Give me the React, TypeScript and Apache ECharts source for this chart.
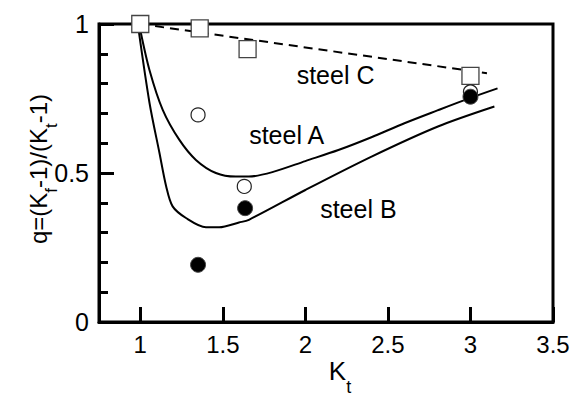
import { useEffect, useRef } from "react";
import * as echarts from "echarts";

// Steel C: fatigue notch sensitivity (open squares) and its dashed trend
const steelCKt = [1.0, 1.36, 1.65, 3.0];
const steelCq = [1.0, 0.985, 0.916, 0.826];
const steelCTrendKt = [1.0, 3.1];
const steelCTrendQ = [1.0, 0.835];

// Steel A: open circles
const steelAKt = [1.35, 1.63, 3.0];
const steelAq = [0.695, 0.455, 0.772];

// Steel B: filled circles
const steelBKt = [1.35, 1.635, 3.0];
const steelBq = [0.192, 0.382, 0.756];

// Predicted curves for steel A and steel B
const curveAKt = [1.0, 1.056, 1.136, 1.237, 1.337, 1.458, 1.578, 1.658, 1.8, 2.0, 2.2, 2.4, 2.6, 2.8, 3.0, 3.164];
const curveAq = [0.98, 0.845, 0.712, 0.611, 0.544, 0.5, 0.488, 0.488, 0.503, 0.54, 0.577, 0.62, 0.667, 0.71, 0.752, 0.784];
const curveBKt = [0.99, 1.056, 1.116, 1.157, 1.196, 1.277, 1.398, 1.478, 1.598, 1.658, 2.0, 2.401, 2.803, 3.145];
const curveBq = [0.98, 0.735, 0.568, 0.455, 0.388, 0.349, 0.318, 0.318, 0.334, 0.343, 0.443, 0.555, 0.656, 0.723];

// In-plot labels
const labelNames = ["steel C", "steel A", "steel B"];
const labelKt = [2.183, 1.887, 2.321];
const labelQ = [0.829, 0.627, 0.378];

// Axis ticks
const xTickValues = [1, 1.5, 2, 2.5, 3, 3.5];
const yTickValues = [0, 0.5, 1];

const FONT = "'Liberation Sans', Arial, Helvetica, sans-serif";

const zip = (xs: number[], ys: number[]) => xs.map((x, i) => [x, ys[i]]);

export default function App() {
  const ref = useRef<HTMLDivElement>(null);

  useEffect(() => {
    if (!ref.current) return;
    const chart = echarts.init(ref.current, undefined, { renderer: "svg" });

    const yNameRich = {
      m: { fontSize: 24, lineHeight: 44, fontFamily: FONT, color: "#000" },
      s: { fontSize: 17, lineHeight: 18, verticalAlign: "bottom", fontFamily: FONT, color: "#000" },
    };
    const xNameRich = {
      m: { fontSize: 26, lineHeight: 50, fontFamily: FONT, color: "#000" },
      s: { fontSize: 18, lineHeight: 18, verticalAlign: "bottom", fontFamily: FONT, color: "#000" },
    };

    chart.setOption({
      animation: false,
      backgroundColor: "#fff",
      textStyle: { fontFamily: FONT },
      grid: {
        left: 99,
        right: 28,
        top: 24,
        bottom: 74,
        outerBoundsMode: "none",
        containLabel: false,
        show: true,
        borderColor: "#000",
        borderWidth: 3,
        backgroundColor: "transparent",
      },
      xAxis: {
        type: "value",
        min: 0.75,
        max: 3.5,
        name: "{m|K}{s|t}",
        nameLocation: "middle",
        nameGap: 24,
        nameMoveOverlap: false,
        nameTextStyle: { rich: xNameRich, padding: [0, 0, 0, 28] },
        axisLine: { show: true, onZero: false, lineStyle: { color: "#000", width: 3 } },
        axisTick: {
          show: true,
          inside: true,
          length: 15,
          customValues: xTickValues,
          lineStyle: { color: "#000", width: 3 },
        },
        axisLabel: {
          customValues: xTickValues,
          fontSize: 24,
          color: "#000",
          fontFamily: FONT,
          margin: 10,
          formatter: (v: number) => String(v),
        },
        splitLine: { show: false },
      },
      yAxis: {
        type: "value",
        min: 0,
        max: 1,
        interval: 0.5,
        name: "{m|q=(K}{s|f}{m|-1)/(K}{s|t}{m|-1)}",
        nameLocation: "middle",
        nameRotate: 90,
        nameGap: 39,
        nameMoveOverlap: false,
        nameTextStyle: { rich: yNameRich, padding: [0, 0, 0, 8] },
        axisLine: { show: true, lineStyle: { color: "#000", width: 3 } },
        axisTick: {
          show: true,
          inside: true,
          length: 15,
          customValues: yTickValues,
          lineStyle: { color: "#000", width: 3 },
        },
        minorTick: {
          show: true,
          splitNumber: 5,
          length: 9,
          lineStyle: { color: "#000", width: 3 },
        },
        axisLabel: {
          customValues: yTickValues,
          fontSize: 25,
          color: "#000",
          fontFamily: FONT,
          margin: 10,
          formatter: (v: number) => String(v),
        },
        splitLine: { show: false },
        minorSplitLine: { show: false },
      },
      series: [
        {
          type: "line",
          data: zip(curveAKt, curveAq),
          smooth: 0.3,
          showSymbol: false,
          lineStyle: { color: "#000", width: 2 },
          z: 2,
        },
        {
          type: "line",
          data: zip(curveBKt, curveBq),
          smooth: 0.3,
          showSymbol: false,
          lineStyle: { color: "#000", width: 2 },
          z: 2,
        },
        {
          type: "line",
          data: zip(steelCTrendKt, steelCTrendQ),
          showSymbol: false,
          lineStyle: { color: "#000", width: 2, type: [9, 6] },
          z: 2,
        },
        {
          type: "scatter",
          data: zip(steelCKt, steelCq),
          symbol: "rect",
          symbolSize: 17,
          clip: false,
          itemStyle: { color: "#fff", borderColor: "#444", borderWidth: 1.3, opacity: 1 },
          z: 4,
        },
        {
          type: "scatter",
          data: zip(steelAKt, steelAq),
          symbol: "circle",
          symbolSize: 14,
          clip: false,
          itemStyle: { color: "#fff", borderColor: "#222", borderWidth: 1.2, opacity: 1 },
          z: 4,
        },
        {
          type: "scatter",
          data: zip(steelBKt, steelBq),
          symbol: "circle",
          symbolSize: 15,
          clip: false,
          itemStyle: { color: "#000", borderColor: "#444", borderWidth: 1, opacity: 1 },
          z: 5,
        },
        {
          type: "scatter",
          data: labelNames.map((n, i) => ({ name: n, value: [labelKt[i], labelQ[i]] })),
          symbolSize: 0,
          silent: true,
          itemStyle: { opacity: 1 },
          label: {
            show: true,
            position: "inside",
            formatter: "{b}",
            fontSize: 25,
            color: "#000",
            fontFamily: FONT,
          },
          z: 6,
        },
      ],
    });

    return () => chart.dispose();
  }, []);

  return (
    <div
      ref={ref}
      style={{ position: "fixed", left: 0, top: 0, width: 581, height: 396 }}
    />
  );
}
